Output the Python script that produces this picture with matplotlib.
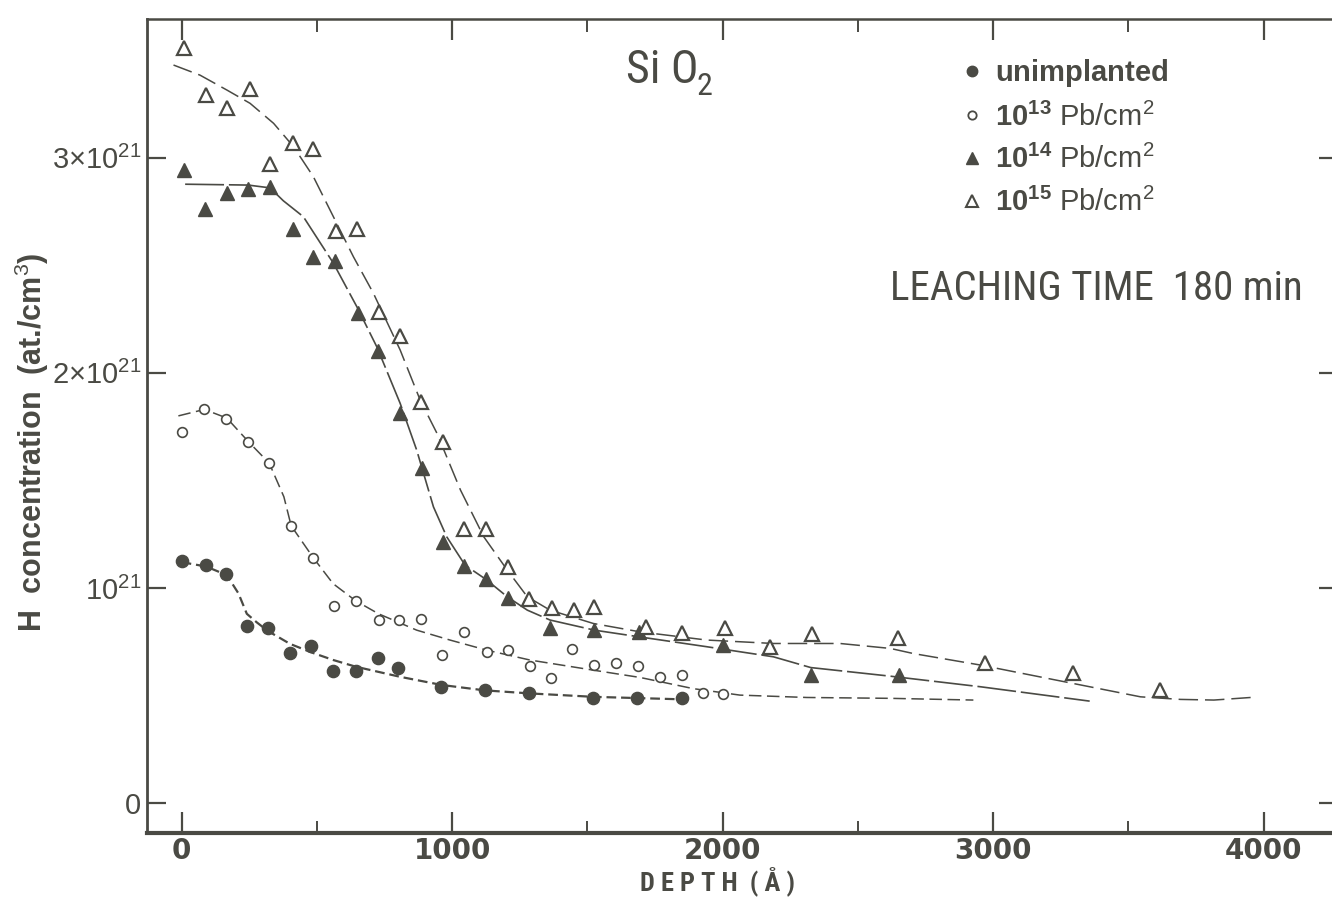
import matplotlib
matplotlib.use("Agg")
import matplotlib.pyplot as plt
from matplotlib.lines import Line2D
from matplotlib.ticker import MultipleLocator, FixedLocator, FixedFormatter

# depth in Angstrom, H concentration in units of 1e21 at./cm3
unimp_x = [0, 90, 165, 240, 320, 400, 480, 560, 645, 725, 800, 960, 1120, 1285, 1520, 1685, 1850]
unimp_y = [1.125, 1.106, 1.063, 0.824, 0.812, 0.699, 0.731, 0.615, 0.614, 0.676, 0.629,
           0.541, 0.525, 0.51, 0.49, 0.49, 0.49]

d13_x = [0, 84, 164, 247, 324, 405, 487, 565, 644, 728, 804, 885, 962, 1045, 1128, 1208,
         1288, 1366, 1445, 1526, 1606, 1689, 1769, 1849, 1929, 2003]
d13_y = [1.726, 1.83, 1.784, 1.68, 1.579, 1.289, 1.14, 0.916, 0.94, 0.851, 0.851, 0.855,
         0.69, 0.794, 0.704, 0.711, 0.637, 0.583, 0.716, 0.642, 0.652, 0.637, 0.584, 0.595,
         0.51, 0.507]

d14_x = [9, 87, 167, 247, 327, 410, 484, 568, 651, 725, 808, 888, 967, 1045, 1125, 1206,
         1362, 1526, 1691, 2003, 2326, 2652]
d14_y = [2.943, 2.76, 2.838, 2.855, 2.865, 2.671, 2.54, 2.52, 2.276, 2.103, 1.812, 1.556,
         1.216, 1.102, 1.04, 0.952, 0.812, 0.804, 0.796, 0.735, 0.595, 0.595]

d15_x = [10, 90, 167, 251, 327, 410, 487, 571, 648, 731, 808, 885, 966, 1045, 1125, 1206,
         1286, 1369, 1449, 1525, 1716, 1851, 2009, 2176, 2332, 2648, 2970, 3295, 3617]
d15_y = [3.509, 3.294, 3.23, 3.319, 2.971, 3.067, 3.039, 2.661, 2.668, 2.284, 2.171, 1.866,
         1.68, 1.272, 1.272, 1.099, 0.947, 0.905, 0.897, 0.913, 0.82, 0.789, 0.812, 0.727,
         0.784, 0.769, 0.649, 0.603, 0.525]

# hand drawn guide curves
unimp_cx = [0, 90, 167, 210, 241, 278, 319, 401, 481, 561, 644, 808, 962, 1121, 1286, 1522, 1861]
unimp_cy = [1.12, 1.10, 1.06, 0.975, 0.88, 0.84, 0.80, 0.74, 0.70, 0.665, 0.634, 0.587,
            0.549, 0.524, 0.51, 0.494, 0.482]

d13_cx = [-12, 84, 167, 247, 324, 378, 405, 487, 560, 644, 728, 869, 992, 1128, 1288, 1522,
          1695, 1892, 2064, 2311, 2620, 2927]
d13_cy = [1.80, 1.83, 1.79, 1.68, 1.58, 1.424, 1.289, 1.14, 1.02, 0.94, 0.88, 0.804, 0.758,
          0.711, 0.665, 0.618, 0.584, 0.532, 0.502, 0.491, 0.487, 0.479]

d14_cx = [13, 246, 327, 376, 450, 561, 648, 722, 808, 869, 931, 980, 1048, 1125, 1204, 1278,
          1362, 1526, 1691, 1941, 2188, 2326, 2620, 2952, 3357]
d14_cy = [2.877, 2.873, 2.86, 2.80, 2.726, 2.51, 2.307, 2.12, 1.858, 1.641, 1.377, 1.238,
          1.106, 1.04, 0.959, 0.897, 0.851, 0.804, 0.773, 0.727, 0.68, 0.63, 0.59, 0.541, 0.474]

d15_cx = [-30, 68, 167, 253, 340, 414, 487, 561, 635, 709, 808, 882, 944, 1031, 1117, 1204,
          1278, 1362, 1522, 1695, 1941, 2188, 2434, 2620, 2706, 2952, 3200, 3545, 3693, 3816, 3952]
d15_cy = [3.431, 3.384, 3.315, 3.253, 3.16, 3.051, 2.912, 2.726, 2.54, 2.37, 2.106, 1.873,
          1.719, 1.455, 1.238, 1.083, 0.959, 0.897, 0.835, 0.796, 0.758, 0.742, 0.742, 0.719,
          0.695, 0.642, 0.58, 0.494, 0.482, 0.479, 0.491]

x_ticks = [0, 1000, 2000, 3000, 4000]
x_labels = ["0", "1000", "2000", "3000", "4000"]
y_ticks = [0, 1, 2, 3]
y_labels = ["0", "$10^{21}$", "$2{\\times}10^{21}$", "$3{\\times}10^{21}$"]
legend_labels = [r"$\mathbf{unimplanted}$", r"$\mathbf{10^{13}}$ Pb/cm$^2$",
                 r"$\mathbf{10^{14}}$ Pb/cm$^2$", r"$\mathbf{10^{15}}$ Pb/cm$^2$"]

ink = "#4a4a44"
narrow = ["Roboto Condensed", "Archivo Narrow", "Liberation Sans"]

plt.rcParams["font.family"] = ["Liberation Sans", "DejaVu Sans"]
plt.rcParams["mathtext.fontset"] = "custom"
plt.rcParams["mathtext.rm"] = "Liberation Sans"
plt.rcParams["mathtext.bf"] = "Liberation Sans:bold"
plt.rcParams["mathtext.it"] = "Liberation Sans:italic"
plt.rcParams["lines.scale_dashes"] = False
plt.rcParams["text.color"] = ink

W, H = 1332, 898
def fx(p): return p / W
def fy(p): return 1 - p / H

fig = plt.figure(figsize=(W / 100, H / 100), dpi=100)
ax = fig.add_axes([fx(147), fy(833), fx(1338) - fx(147), fy(19) - fy(833)])

ax.plot(unimp_cx, unimp_cy, color=ink, lw=1.6, dashes=(7, 3.5))
ax.plot(d13_cx, d13_cy, color=ink, lw=1.1, dashes=(9, 4))
ax.plot(d14_cx, d14_cy, color=ink, lw=1.2, dashes=(28, 3.5))
ax.plot(d15_cx, d15_cy, color=ink, lw=1.1, dashes=(14, 5))

ax.plot(unimp_x, unimp_y, "o", ms=8.8, color=ink, mec=ink)
ax.plot(d13_x, d13_y, "o", ms=7, mfc="white", mec=ink, mew=1.2)
ax.plot(d14_x, d14_y, "^", ms=10, color=ink, mec=ink)
ax.plot(d15_x, d15_y, "^", ms=9.5, mfc="white", mec=ink, mew=1.6)

ax.set_xlim(-128, 4275)
ax.set_ylim(-0.139, 3.645)

ax.xaxis.set_major_locator(FixedLocator(x_ticks))
ax.xaxis.set_major_formatter(FixedFormatter(x_labels))
ax.xaxis.set_minor_locator(MultipleLocator(500))
ax.yaxis.set_major_locator(FixedLocator(y_ticks))
ax.yaxis.set_major_formatter(FixedFormatter(y_labels))

ax.tick_params(axis="x", which="major", direction="in", length=15, width=1.6, color=ink,
               top=True, pad=3, labelsize=20, labelcolor=ink)
ax.tick_params(axis="x", which="minor", direction="in", length=9, width=1.4, color=ink, top=True)
ax.tick_params(axis="y", which="major", direction="in", length=14, width=1.6, color=ink,
               right=True, pad=4, labelsize=21, labelcolor=ink)
for lab in ax.get_xticklabels():
    lab.set_family("DejaVu Sans")
    lab.set_fontweight("bold")

for side, lw in (("left", 2.0), ("bottom", 3.0), ("top", 1.8), ("right", 1.5)):
    ax.spines[side].set_linewidth(lw)
    ax.spines[side].set_color(ink)

ax.set_ylabel("H  concentration  (at./cm$^3$)", fontsize=22, fontweight="bold", color=ink)
ax.yaxis.set_label_coords((51 - 147) / (1338 - 147), (833 - 442) / (833 - 19))

fig.text(fx(717), fy(881), "D E P T H  ( Å )", family=narrow,
         fontweight="bold", fontsize=19, ha="center", va="center")

fig.text(fx(626), fy(83), "Si O", family=narrow, fontsize=33, ha="left", va="baseline")
fig.text(fx(697), fy(95), "2", family=narrow, fontsize=23, ha="left", va="baseline")
fig.text(fx(890), fy(300), "LEACHING TIME  180 min", family=narrow, fontsize=29.5,
         ha="left", va="baseline")

handles = [
    Line2D([], [], ls="none", marker="o", ms=7.5, color=ink),
    Line2D([], [], ls="none", marker="o", ms=6, mfc="white", mec=ink, mew=1.3),
    Line2D([], [], ls="none", marker="^", ms=8.5, color=ink),
    Line2D([], [], ls="none", marker="^", ms=8, mfc="white", mec=ink, mew=1.5),
]
ax.legend(handles, legend_labels, loc="upper left", bbox_to_anchor=(fx(960), fy(57)),
          bbox_transform=fig.transFigure, frameon=False, fontsize=21, handlelength=0.8,
          handletextpad=0.4, labelspacing=0.46, borderpad=0, borderaxespad=0)

fig.savefig("out.png", dpi=100)
